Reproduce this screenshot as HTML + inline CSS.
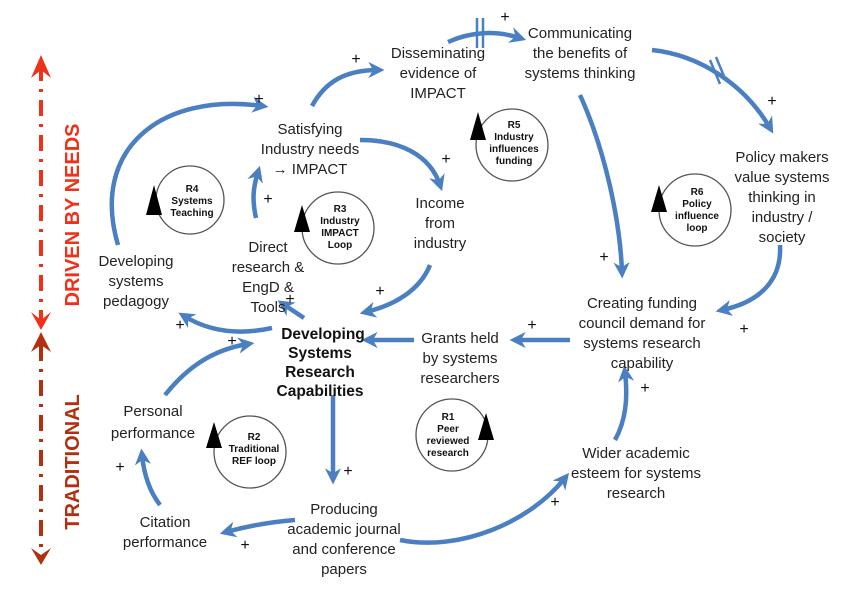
<!DOCTYPE html>
<html><head><meta charset="utf-8"><style>
html,body{margin:0;padding:0;background:#fff;}
svg{display:block;font-family:"Liberation Sans",sans-serif;}
.t{font-size:15px;fill:#222;text-anchor:middle;}
.l{font-size:10px;font-weight:bold;fill:#111;text-anchor:middle;}
.p{font-size:16px;fill:#111;text-anchor:middle;}
.c{fill:none;stroke:#4a7fc1;stroke-width:4.5;}
.r{fill:none;stroke:#555;stroke-width:1.3;}
.b{font-size:15.5px;font-weight:bold;fill:#111;text-anchor:middle;}
</style></head><body>
<svg width="850" height="602" viewBox="0 0 850 602">
<defs>
<marker id="a" viewBox="0 0 10 10" refX="6" refY="5" markerWidth="3.6" markerHeight="3.6" orient="auto"><path d="M0,0 L10,5 L0,10 L3,5z" fill="#4a7fc1"/></marker>
</defs>
<!-- left axis -->
<line x1="41" y1="65" x2="41" y2="320" stroke="#f03018" stroke-width="4" stroke-dasharray="16,8,3,8"/>
<path d="M31,78 L41,55 L51,78 L41,70z" fill="#f03018"/>
<path d="M31,312 L41,330 L51,312 L41,320z" fill="#f03018"/>
<text transform="translate(79,215) rotate(-90)" font-size="20" font-weight="bold" fill="#f03018" text-anchor="middle">DRIVEN BY NEEDS</text>
<line x1="41" y1="345" x2="41" y2="555" stroke="#b03010" stroke-width="4" stroke-dasharray="16,8,3,8"/>
<path d="M31,352 L41,332 L51,352 L41,345z" fill="#b03010"/>
<path d="M31,548 L41,565 L51,548 L41,555z" fill="#b03010"/>
<text transform="translate(79,462) rotate(-90)" font-size="20" font-weight="bold" fill="#b03010" text-anchor="middle">TRADITIONAL</text>

<!-- loops -->
<circle class="r" cx="190" cy="200" r="34"/><path d="M146,215 L154,185 L162,215z" fill="#000"/>
<text class="l" x="192" y="192">R4</text><text class="l" x="192" y="204">Systems</text><text class="l" x="192" y="216">Teaching</text>
<circle class="r" cx="338" cy="228" r="36"/><path d="M294,232 L302,205 L310,232z" fill="#000"/>
<text class="l" x="340" y="212">R3</text><text class="l" x="340" y="224">Industry</text><text class="l" x="340" y="236">IMPACT</text><text class="l" x="340" y="248">Loop</text>
<circle class="r" cx="512" cy="145" r="36"/><path d="M470,140 L478,112 L486,140z" fill="#000"/>
<text class="l" x="514" y="128">R5</text><text class="l" x="514" y="140">Industry</text><text class="l" x="514" y="152">influences</text><text class="l" x="514" y="164">funding</text>
<circle class="r" cx="695" cy="210" r="36"/><path d="M651,212 L659,185 L667,212z" fill="#000"/>
<text class="l" x="697" y="195">R6</text><text class="l" x="697" y="207">Policy</text><text class="l" x="697" y="219">influence</text><text class="l" x="697" y="231">loop</text>
<circle class="r" cx="250" cy="452" r="36"/><path d="M206,448 L214,422 L222,448z" fill="#000"/>
<text class="l" x="254" y="440">R2</text><text class="l" x="254" y="452">Traditional</text><text class="l" x="254" y="464">REF loop</text>
<circle class="r" cx="452" cy="435" r="36"/><path d="M478,440 L486,413 L494,440z" fill="#000"/>
<text class="l" x="448" y="420">R1</text><text class="l" x="448" y="432">Peer</text><text class="l" x="448" y="444">reviewed</text><text class="l" x="448" y="456">research</text>

<!-- connectors -->
<path class="c" marker-end="url(#a)" d="M118,245 C90,150 160,92 262,106"/>
<path class="c" marker-end="url(#a)" d="M312,106 C325,82 345,70 378,70"/>
<path class="c" marker-end="url(#a)" d="M448,42 C470,32 495,30 520,38"/>
<g stroke="#4a7fc1" stroke-width="2.5"><line x1="477" y1="18" x2="477" y2="48"/><line x1="483" y1="18" x2="483" y2="48"/></g>
<path class="c" marker-end="url(#a)" d="M652,50 C700,55 745,85 770,128"/>
<g stroke="#4a7fc1" stroke-width="2.5"><line x1="710" y1="60" x2="720" y2="84"/><line x1="716" y1="57" x2="726" y2="81"/></g>
<path class="c" marker-end="url(#a)" d="M580,95 C605,150 620,220 622,272"/>
<path class="c" marker-end="url(#a)" d="M780,245 C782,280 760,302 722,310"/>
<path class="c" marker-end="url(#a)" d="M360,140 C400,140 430,155 440,185"/>
<path class="c" marker-end="url(#a)" d="M430,265 C420,290 395,305 366,312"/>
<path class="c" marker-end="url(#a)" d="M414,340 L368,340"/>
<path class="c" marker-end="url(#a)" d="M570,340 L516,340"/>
<path class="c" marker-end="url(#a)" d="M272,328 C240,335 210,332 184,316"/>
<path class="c" marker-end="url(#a)" d="M304,318 L283,304"/>
<path class="c" marker-end="url(#a)" d="M256,218 C252,200 253,188 258,172"/>
<path class="c" marker-end="url(#a)" d="M333,395 L333,478"/>
<path class="c" marker-end="url(#a)" d="M295,520 C270,522 248,526 226,532"/>
<path class="c" marker-end="url(#a)" d="M160,505 C150,492 144,475 142,455"/>
<path class="c" marker-end="url(#a)" d="M165,395 C185,370 210,350 248,344"/>
<path class="c" marker-end="url(#a)" d="M400,540 C460,552 530,522 565,478"/>
<path class="c" marker-end="url(#a)" d="M615,440 C626,420 628,398 625,372"/>

<!-- pluses -->
<g class="p">
<text x="259" y="104">+</text><text x="356" y="64">+</text><text x="505" y="22">+</text><text x="772" y="106">+</text>
<text x="604" y="262">+</text><text x="744" y="334">+</text><text x="446" y="164">+</text><text x="380" y="296">+</text>
<text x="532" y="330">+</text><text x="290" y="304">+</text><text x="268" y="204">+</text><text x="180" y="330">+</text>
<text x="232" y="346">+</text><text x="348" y="476">+</text><text x="245" y="550">+</text><text x="120" y="472">+</text>
<text x="555" y="507">+</text><text x="645" y="393">+</text>
</g>

<!-- nodes -->
<g class="t">
<text x="438" y="58">Disseminating</text><text x="438" y="78">evidence of</text><text x="438" y="98">IMPACT</text>
<text x="580" y="38">Communicating</text><text x="580" y="58">the benefits  of</text><text x="580" y="78">systems thinking</text>
<text x="310" y="134">Satisfying</text><text x="310" y="154">Industry needs</text><text x="310" y="174">→ IMPACT</text>
<text x="440" y="208">Income</text><text x="440" y="228">from</text><text x="440" y="248">industry</text>
<text x="782" y="162">Policy makers</text><text x="782" y="182">value systems</text><text x="782" y="202">thinking in</text><text x="782" y="222">industry /</text><text x="782" y="242">society</text>
<text x="268" y="252">Direct</text><text x="268" y="272">research &amp;</text><text x="268" y="292">EngD &amp;</text><text x="268" y="312">Tools</text>
<text x="136" y="266">Developing</text><text x="136" y="286">systems</text><text x="136" y="306">pedagogy</text>
<text x="642" y="308">Creating funding</text><text x="642" y="328">council demand for</text><text x="642" y="348">systems research</text><text x="642" y="368">capability</text>
<text x="460" y="343">Grants held</text><text x="460" y="363">by systems</text><text x="460" y="383">researchers</text>
<text x="153" y="416">Personal</text><text x="153" y="438">performance</text>
<text x="636" y="458">Wider academic</text><text x="636" y="478">esteem for systems</text><text x="636" y="498">research</text>
<text x="344" y="514">Producing</text><text x="344" y="534">academic journal</text><text x="344" y="554">and conference</text><text x="344" y="574">papers</text>
<text x="165" y="527">Citation</text><text x="165" y="547">performance</text>
</g>
<text class="b" x="323" y="339">Developing</text>
<text class="b" x="320" y="358">Systems</text>
<text class="b" x="320" y="377">Research</text>
<text class="b" x="320" y="396">Capabilities</text>
</svg>
</body></html>
